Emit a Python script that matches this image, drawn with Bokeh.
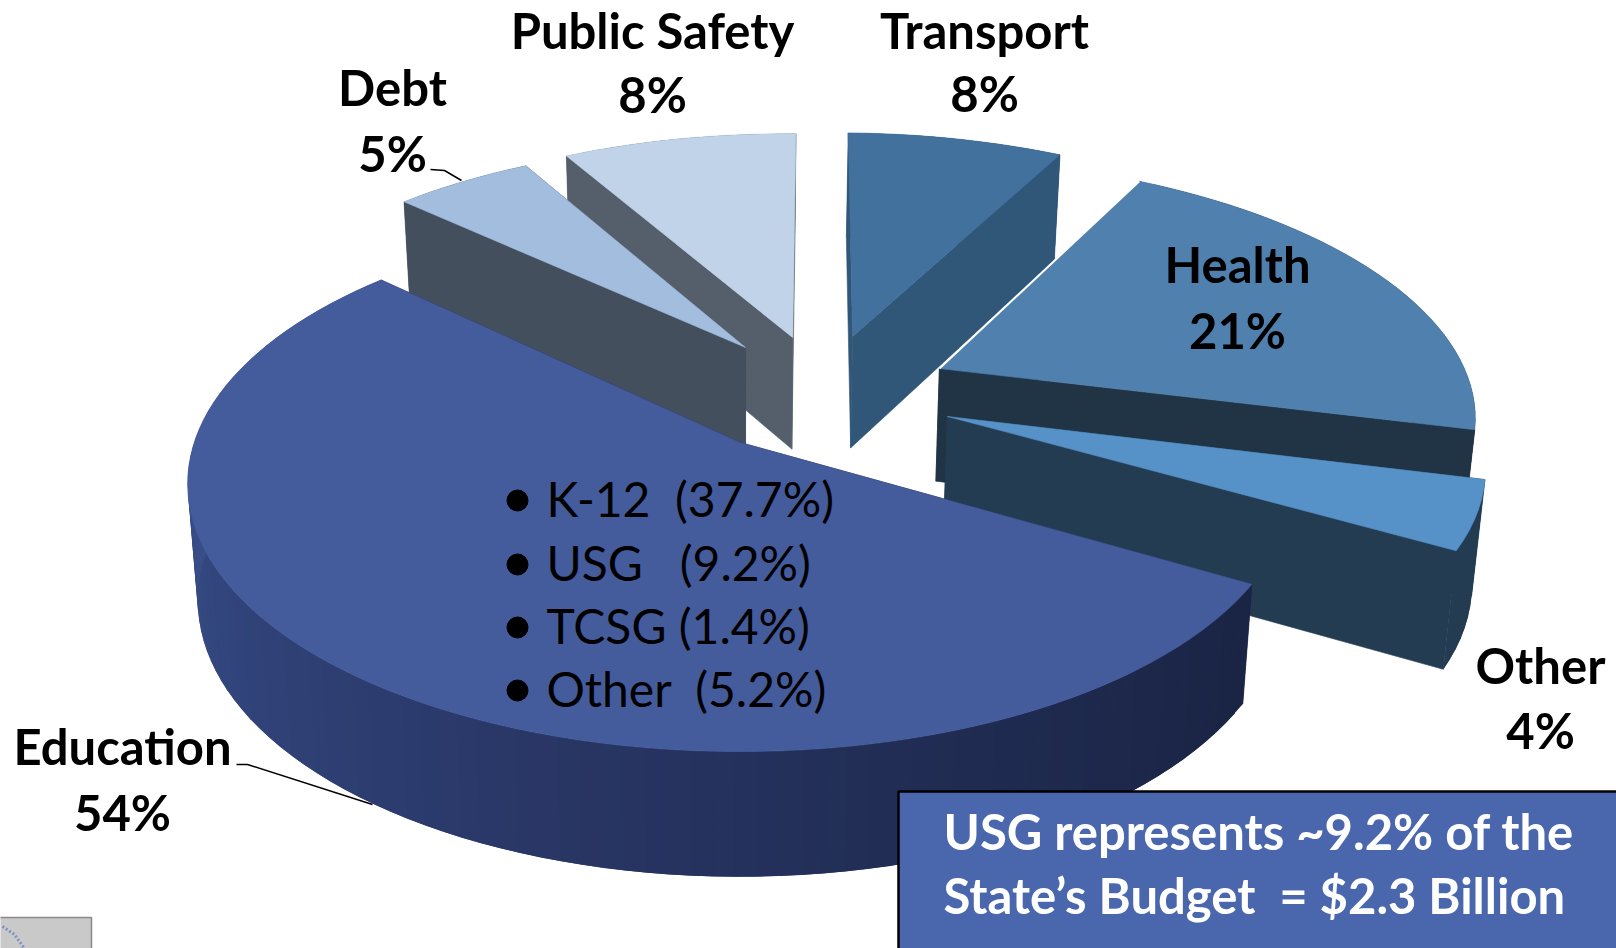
import numpy as np
from bokeh.plotting import figure
from bokeh.models import Range1d
from bokeh.core.properties import value
from bokeh.embed import file_html
from bokeh.resources import INLINE

# ---- data
names = ["Education", "Debt", "Public Safety", "Transport", "Health", "Other"]
shares = [53.7, 5, 8.3, 7.6, 21.0, 4.4]
pct_labels = ["54%", "5%", "8%", "8%", "21%", "4%"]
education_items = ["K-12 \u00a0(37.7%)", "USG \u00a0 (9.2%)", "TCSG (1.4%)", "Other \u00a0(5.2%)"]
callout_lines = ["USG represents ~9.2% of the", "State\u2019s Budget \u00a0= $2.3 Billion"]

# ---- styles
top_colors = ["#445B9C", "#A3BDDF", "#C0D3E8", "#42719D", "#5080AE", "#5692C8"]
cut_colors = ["#1A2444", "#434F5C", "#545F6B", "#305678", "#203445", "#233C52"]
rim_colors = ["#2A3768", "#434F5C", "#545F6B", "#305678", "#203445", "#233C52"]

# ---- projection of the tilted disc (pie plane -> page pixels)
U0, V0, A, B, K = 743.0, 442.0, 546.0, 261.8, 0.153
SHRINK, DEPTH, DEPTH_GROW = 0.982, 115.0, 1.033
START_DEG = 30.0
explode = {"Education": (-0.006, 0.0), "Debt": (0.004, -0.384), "Public Safety": (0.096, -0.427),
           "Transport": (0.213, -0.432), "Health": (0.375, -0.295), "Other": (0.379, -0.101)}
radius = {"Education": 1.0, "Debt": 1.0, "Public Safety": 1.012,
          "Transport": 1.012, "Health": 1.005, "Other": 0.98}
EYE = (0.0, 4.0)


def proj(X, Y, lower=False):
    X, Y = np.asarray(X, float), np.asarray(Y, float)
    w = 1 - K * Y
    sx, sy = A * X / w, B * Y / w
    if lower:
        sx, sy = sx * SHRINK, DEPTH + DEPTH_GROW * sy
    return U0 + sx, V0 + sy


p = figure(width=1616, height=948, output_backend="svg", toolbar_location=None,
           x_range=Range1d(0, 1616), y_range=Range1d(948, 0), min_border=0,
           background_fill_color="white", border_fill_color="white", outline_line_color=None)
p.axis.visible = False
p.grid.visible = False


def face(xs, ys, color, lw=0.6):
    p.patch(list(xs), list(ys), fill_color=color, line_color=color, line_width=lw)


def cut_face(ox, oy, ang, r, color):
    ex, ey = ox + r * np.cos(ang), oy + r * np.sin(ang)
    tx, ty = proj([ox, ex], [oy, ey])
    bx, by = proj([ex, ox], [ey, oy], lower=True)
    face(np.r_[tx, bx], np.r_[ty, by], color)


edges = np.r_[0, np.cumsum(shares)] / 100 * 2 * np.pi + np.radians(START_DEG)
paint_order = ["Public Safety", "Transport", "Debt", "Health", "Other", "Education"]
for name in paint_order:
    i = names.index(name)
    a0, a1 = edges[i], edges[i + 1]
    ox, oy = explode[name]
    r_ = radius[name]
    n0 = (np.sin(a0), -np.cos(a0))
    n1 = (-np.sin(a1), np.cos(a1))
    vis0 = n0[0] * (EYE[0] - ox) + n0[1] * (EYE[1] - oy) > 0
    vis1 = n1[0] * (EYE[0] - ox) + n1[1] * (EYE[1] - oy) > 0
    if not vis0:
        cut_face(ox, oy, a0, r_, cut_colors[i])
    if not vis1:
        cut_face(ox, oy, a1, r_, cut_colors[i])
    th = np.linspace(a0, a1, max(6, int(np.degrees(a1 - a0) / 2) + 1))
    rx, ry = ox + r_ * np.cos(th), oy + r_ * np.sin(th)
    tx, ty = proj(rx, ry)
    bx, by = proj(rx, ry, lower=True)
    for j in range(len(th) - 1):
        col = rim_colors[i]
        if name == "Education":
            d = np.degrees(th[j]) % 360
            r = np.interp(d, [29, 70, 110, 150, 190, 224], [0x1A, 0x20, 0x2A, 0x32, 0x3C, 0x40])
            g = np.interp(d, [29, 70, 110, 150, 190, 224], [0x24, 0x2C, 0x38, 0x45, 0x53, 0x58])
            b_ = np.interp(d, [29, 70, 110, 150, 190, 224], [0x44, 0x52, 0x68, 0x7C, 0x8E, 0x94])
            col = "#%02X%02X%02X" % (int(r), int(g), int(b_))
        k = min(j + 2, len(th) - 1)  # overlap the next strip so no seams show
        face([tx[j], tx[k], bx[k], bx[j]], [ty[j], ty[k], by[k], by[j]], col, lw=0)
    if vis0:
        cut_face(ox, oy, a0, r_, cut_colors[i])
    if vis1:
        cut_face(ox, oy, a1, r_, cut_colors[i])
    px, py = proj(np.r_[ox, rx], np.r_[oy, ry])
    face(px, py, top_colors[i])
    if name == "Health":
        lx, ly = proj([ox, ox + r_ * np.cos(a0)], [oy, oy + r_ * np.sin(a0)])
        p.line(list(lx), list(ly), line_color="white", line_width=2)

FONT = value("Lato")
label_pos = {"Education": (122, 745, 811), "Debt": (392, 86, 152), "Public Safety": (652, 29, 93),
             "Transport": (984, 29, 92), "Health": (1237, 263, 329), "Other": (1540, 664, 729)}
SIZE = "49px"
for n, pct in zip(names, pct_labels):
    x, y1, y2 = label_pos[n]
    p.text([x, x], [y1, y2], text=[n, pct], text_font=FONT, text_font_style="bold",
           text_font_size=SIZE, text_align="center", text_baseline="middle", text_color="black")

# leader lines
p.line([430, 444, 461], [169, 170, 180], line_color="black", line_width=1.5)
p.line([236, 247, 372], [764, 764, 804], line_color="black", line_width=1.5)

# list inside the Education slice
item_y = [498, 562, 625, 688]
p.scatter([517] * 4, [y + 2 for y in item_y], size=21, color="black")
p.text([546] * 4, item_y, text=education_items, text_font=FONT, text_font_size="48px",
       text_align="left", text_baseline="middle", text_color="black")

# callout box
p.patch([898, 1640, 1640, 898], [791, 791, 970, 970], fill_color="#4A67AD", line_color="black", line_width=2.5)
p.text([943, 943], [830, 894], text=callout_lines, text_font=FONT, text_font_style="bold",
       text_font_size="49px", text_align="left", text_baseline="middle", text_color="white")

# corner of the small seal, bottom left
p.patch([-5, 91, 91, -5], [917, 917, 970, 970], fill_color="#C9C9C9", line_color="#8A8A8A", line_width=1.5)
p.line([2, 14, 24], [926, 934, 948], line_color="#7F8FC4", line_width=3, line_dash="2 2")

open("out.html", "w").write(file_html(p, INLINE))
